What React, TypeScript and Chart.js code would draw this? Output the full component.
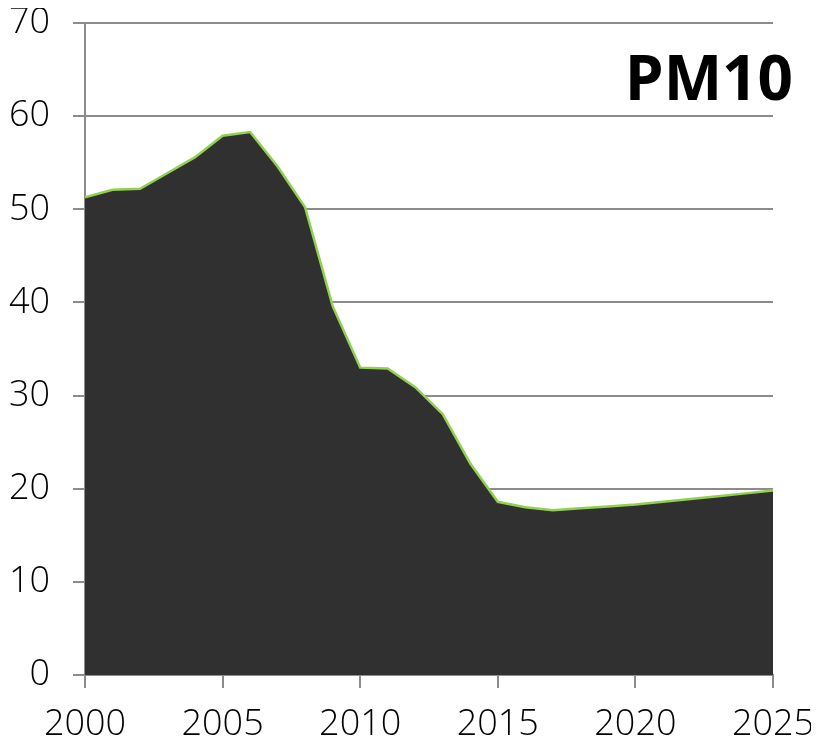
import React, { useEffect, useRef } from "react";
import { Chart, registerables } from "chart.js";
Chart.register(...registerables);

const years = [2000, 2001, 2002, 2003, 2004, 2005, 2006, 2007, 2008, 2009, 2010, 2011, 2012, 2013, 2014, 2015, 2016, 2017, 2018, 2019, 2020, 2021, 2022, 2023, 2024, 2025];
const pm10 = [51.3, 52.1, 52.2, 53.9, 55.6, 57.9, 58.3, 54.6, 50.2, 39.6, 33.0, 32.9, 30.9, 28.0, 22.7, 18.6, 18.0, 17.7, 17.9, 18.1, 18.3, 18.6, 18.9, 19.2, 19.5, 19.8];
const yTicks = [0, 10, 20, 30, 40, 50, 60, 70];
const xTicks = [2000, 2005, 2010, 2015, 2020, 2025];
const title = "PM10";

const GRID = "#8c8c8c";
const FONT = "'Open Sans', sans-serif";

const titlePlugin = {
  id: "pmTitle",
  afterDraw(chart: any) {
    const { ctx, chartArea } = chart;
    ctx.save();
    ctx.font = "bold 62px 'Open Sans', sans-serif";
    ctx.fillStyle = "#000";
    ctx.textAlign = "right";
    ctx.textBaseline = "alphabetic";
    ctx.fillText(title, chartArea.right + 20, chartArea.top + 77);
    ctx.restore();
  },
};

export default function App() {
  const ref = useRef<HTMLCanvasElement>(null);
  useEffect(() => {
    if (!ref.current) return;
    const last = years.length - 1;
    const chart = new Chart(ref.current, {
      type: "line",
      data: {
        datasets: [
          {
            data: years.map((y, i) => ({ x: y, y: pm10[i] })),
            borderColor: "#92d050",
            borderWidth: 2.5,
            backgroundColor: "#303030",
            fill: "origin",
            pointRadius: 0,
            tension: 0,
          },
          {
            data: [
              { x: years[last], y: 0 },
              { x: years[last], y: pm10[last] },
            ],
            borderColor: "#92d050",
            borderWidth: 2,
            fill: false,
            pointRadius: 0,
          },
        ],
      },
      options: {
        animation: false,
        responsive: false,
        maintainAspectRatio: false,
        layout: { padding: { left: 0, top: 15, right: 38, bottom: 0 } },
        plugins: { legend: { display: false }, tooltip: { enabled: false }, title: { display: false } },
        scales: {
          x: {
            type: "linear",
            min: 2000,
            max: 2025,
            afterBuildTicks: (s: any) => {
              s.ticks = xTicks.map((v) => ({ value: v }));
            },
            afterFit: (s: any) => {
              s.height = 60;
              s.paddingLeft = 0;
              s.paddingRight = 0;
            },
            ticks: {
              callback: (v: any) => String(v),
              color: "#000",
              font: { family: FONT, size: 36, weight: "300" },
              padding: 15,
              maxRotation: 0,
              autoSkip: false,
            },
            grid: { drawOnChartArea: false, drawTicks: true, tickLength: 13, color: GRID, lineWidth: 2 },
            border: { display: true, color: GRID, width: 2 },
          },
          y: {
            min: 0,
            max: 70,
            afterBuildTicks: (s: any) => {
              s.ticks = yTicks.map((v) => ({ value: v }));
            },
            afterFit: (s: any) => {
              s.width = 77;
              s.paddingTop = 0;
              s.paddingBottom = 0;
            },
            ticks: {
              color: "#000",
              font: { family: FONT, size: 36, weight: "300" },
              padding: 23,
            },
            grid: { drawTicks: true, tickLength: 12, color: GRID, lineWidth: 2 },
            border: { display: true, color: GRID, width: 2 },
          },
        },
      },
      plugins: [titlePlugin],
    });
    return () => chart.destroy();
  }, []);
  return (
    <div style={{ width: 803, height: 727 }}>
      <canvas ref={ref} width={803} height={727} style={{ display: "block" }} />
    </div>
  );
}
